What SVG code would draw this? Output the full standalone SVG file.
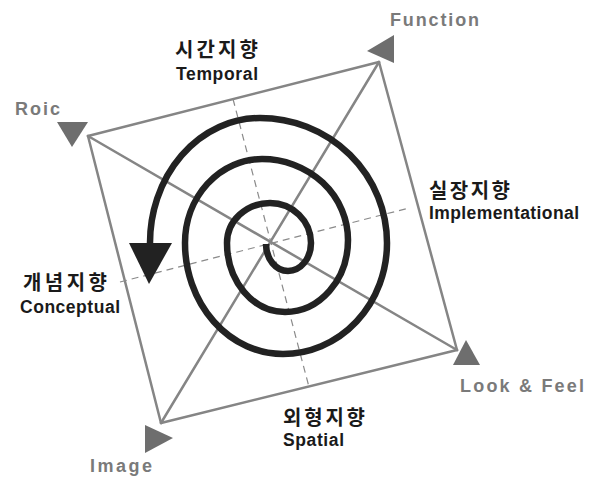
<svg xmlns="http://www.w3.org/2000/svg" width="592" height="482" viewBox="0 0 592 482">
<style>
.edge{stroke:#858585;stroke-width:2.5;fill:none;stroke-linecap:round}
.axis{stroke:#8a8a8a;stroke-width:1.2;fill:none;stroke-dasharray:7 5}
.tri{fill:#6e6e6e}
.gl{font-family:"Liberation Sans",Arial,sans-serif;font-weight:bold;fill:#7a7a7a;font-size:18px}
.ko{font-family:"Noto Sans CJK KR","Noto Sans",sans-serif;font-weight:bold;fill:#1a1a1a;font-size:20px}
.en{font-family:"Liberation Sans",Arial,sans-serif;font-weight:bold;fill:#1a1a1a;font-size:17.5px}
.spiral{fill:none;stroke:#222;stroke-width:6.5;stroke-linecap:butt}
</style>
<rect width="592" height="482" fill="#fff"/>
<g id="connectors">
  <line class="edge" x1="88" y1="136" x2="379" y2="62"/>
  <line class="edge" x1="379" y1="62" x2="457" y2="350"/>
  <line class="edge" x1="457" y1="350" x2="161" y2="423"/>
  <line class="edge" x1="161" y1="423" x2="88" y2="136"/>
  <line class="edge" x1="88" y1="136" x2="457" y2="350"/>
  <line class="edge" x1="379" y1="62" x2="161" y2="423"/>
  <line class="axis" x1="233" y1="99" x2="309" y2="387"/>
  <line class="axis" x1="120" y1="282" x2="409" y2="208"/>
</g>
<g id="spiral">
  <path class="spiral" d="M266,244 A22,27 0 0 0 288,271 A23,28 0 0 0 311,243 A41,40 0 0 0 270,203 A43,40 0 0 0 227,243 A58,69 0 0 0 285,312 A63,72 0 0 0 348,240 A86,81 0 0 0 262,159 A77,84 0 0 0 185,243 A98,111 0 0 0 283,354 A104,111 0 0 0 387,243 A127,125 0 0 0 260,118 A110,125 0 0 0 150,245"/>
  <polygon points="129,243 172,243 149,284" fill="#222"/>
</g>
<g id="node-role">
  <polygon class="tri" points="57,122 88,122 72,147"/>
  <text class="gl" x="15" y="115" textLength="45">Roic</text>
</g>
<g id="node-function">
  <polygon class="tri" points="367,51 394,35 394,63"/>
  <text class="gl" x="390" y="26" textLength="89">Function</text>
</g>
<g id="node-lookfeel">
  <polygon class="tri" points="466,340 480,365 453,365"/>
  <text class="gl" x="460" y="392" textLength="124">Look &amp; Feel</text>
</g>
<g id="node-image">
  <polygon class="tri" points="145,425 173,438 145,453"/>
  <text class="gl" x="90" y="472" textLength="62">Image</text>
</g>
<g id="label-temporal">
  <text class="ko" x="175" y="57" textLength="83">시간지향</text>
  <text class="en" x="176" y="80" textLength="82">Temporal</text>
</g>
<g id="label-implementational">
  <text class="ko" x="429" y="198" textLength="81">실장지향</text>
  <text class="en" x="429" y="219" textLength="150">Implementational</text>
</g>
<g id="label-conceptual">
  <text class="ko" x="23" y="290" textLength="84">개념지향</text>
  <text class="en" x="20" y="313" textLength="100">Conceptual</text>
</g>
<g id="label-spatial">
  <text class="ko" x="283" y="425" textLength="82">외형지향</text>
  <text class="en" x="283" y="446" textLength="61">Spatial</text>
</g>
</svg>
